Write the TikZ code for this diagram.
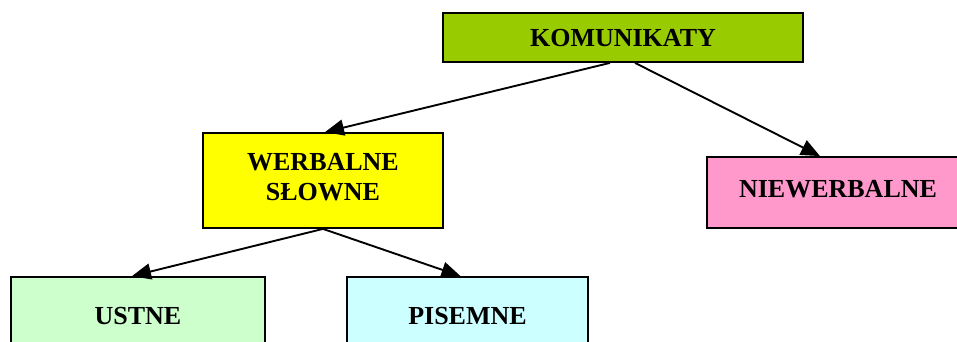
\documentclass[tikz,border=0pt]{standalone}
\usepackage{fontspec}
\setmainfont{Liberation Serif}
\usetikzlibrary{arrows.meta}
\definecolor{komfill}{HTML}{99CC00}
\definecolor{werbfill}{HTML}{FFFF00}
\definecolor{niewfill}{HTML}{FF99CC}
\definecolor{ustfill}{HTML}{CCFFCC}
\definecolor{pisfill}{HTML}{CCFFFF}
\tikzset{
  catbox/.style={draw=black, line width=1.8pt, inner sep=0pt, align=center,
    text depth=8pt,
    font=\fontsize{26}{30}\selectfont\bfseries},
  arr/.style={line width=1.9pt, -{Triangle[length=19pt,width=16pt]}}
}
\begin{document}
\begin{tikzpicture}[x=1pt,y=-1pt]
  \useasboundingbox (0,0) rectangle (957,342);
  \clip (0,0) rectangle (957,342);
  % category boxes
  \node[catbox, fill=komfill, text depth=0pt, minimum width=360, minimum height=49] (kom) at (623,37.5) {KOMUNIKATY};
  \node[catbox, fill=werbfill, minimum width=240, minimum height=95] (werb) at (323,180.5) {WERBALNE\\SŁOWNE};
  \node[catbox, fill=niewfill, minimum width=262, minimum height=71] (niew) at (838,192.5) {NIEWERBALNE};
  \node[catbox, fill=ustfill, minimum width=254, minimum height=86] (ust) at (138,320) {USTNE};
  \node[catbox, fill=pisfill, minimum width=241, minimum height=86] (pis) at (467.5,320) {PISEMNE};
  % connectors
  \draw[arr] ([xshift=-13]kom.south) -- ([xshift=2]werb.north);
  \draw[arr] ([xshift=12]kom.south) -- ([xshift=-18]niew.north);
  \draw[arr] (werb.south) -- ([xshift=-6]ust.north);
  \draw[arr] (werb.south) -- ([xshift=-7]pis.north);
\end{tikzpicture}
\end{document}
